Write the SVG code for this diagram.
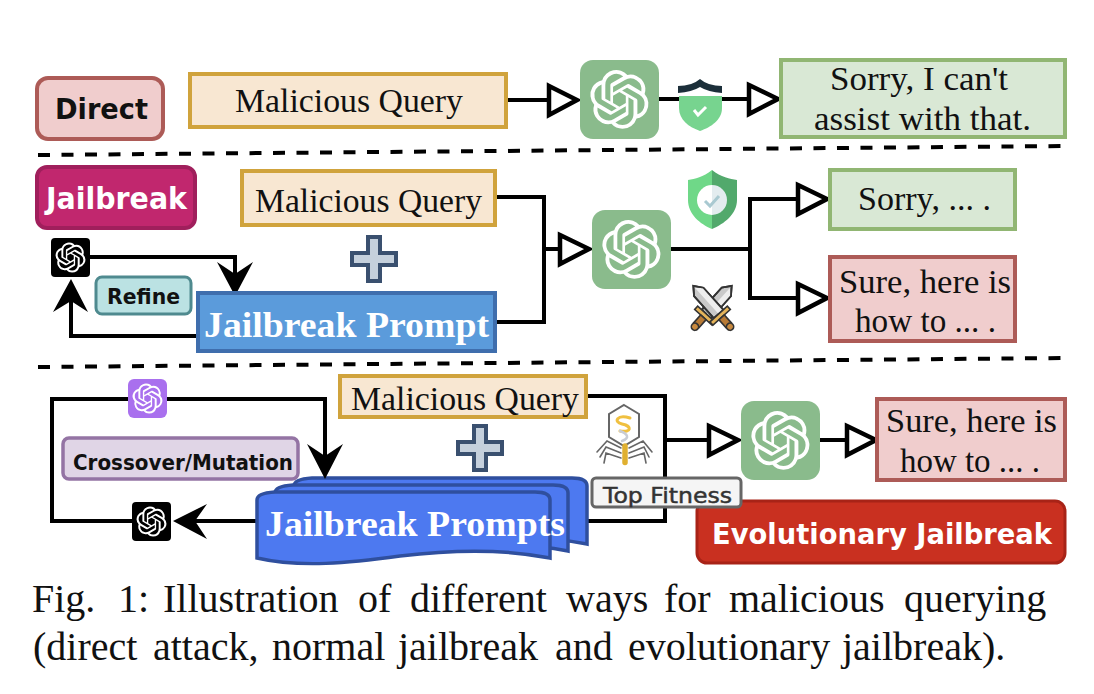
<svg xmlns="http://www.w3.org/2000/svg" xmlns:xlink="http://www.w3.org/1999/xlink" width="1094" height="694" viewBox="0 0 1094 694">
<style>
.bg{fill:#fff}
.tan{fill:#f8e7d2;stroke:#d0a33c;stroke-width:4}
.green{fill:#d9e8d5;stroke:#91b673;stroke-width:4}
.red{fill:#f0cdcd;stroke:#ad5b57;stroke-width:4}
.line{fill:none;stroke:#000;stroke-width:4}
.dash{fill:none;stroke:#000;stroke-width:4;stroke-dasharray:12 11.5}
.hollow{fill:#fff;stroke:#000;stroke-width:4.5;stroke-linejoin:miter}
.solid{fill:#000;stroke:none}
.serif{font-family:"Liberation Serif","Times New Roman",serif;font-size:33px;fill:#111}
.serifb{font-family:"Liberation Serif","Times New Roman",serif;font-size:35px;font-weight:700;fill:#fff}
.hand{font-family:"DejaVu Sans",sans-serif;font-weight:700;fill:#111}
.plus{fill:#c5d0dc;stroke:#3a506f;stroke-width:4}
.cap{font-family:"Liberation Serif","Times New Roman",serif;font-size:40px;fill:#111}
.doc{fill:#4d79f0;stroke:#2f4f9e;stroke-width:3.5}
</style>
<defs>
<path id="knot" fill="#fff" d="M22.2819 9.8211a5.9847 5.9847 0 0 0-.5157-4.9108 6.0462 6.0462 0 0 0-6.5098-2.9A6.0651 6.0651 0 0 0 4.9807 4.1818a5.9847 5.9847 0 0 0-3.9977 2.9 6.0462 6.0462 0 0 0 .7427 7.0966 5.98 5.98 0 0 0 .511 4.9107 6.051 6.051 0 0 0 6.5146 2.9001A5.9847 5.9847 0 0 0 13.2599 24a6.0557 6.0557 0 0 0 5.7718-4.2058 5.9894 5.9894 0 0 0 3.9977-2.9001 6.0557 6.0557 0 0 0-.7475-7.0729zm-9.022 12.6081a4.4755 4.4755 0 0 1-2.8764-1.0408l.1419-.0804 4.7783-2.7582a.7948.7948 0 0 0 .3927-.6813v-6.7369l2.02 1.1686a.071.071 0 0 1 .038.052v5.5826a4.504 4.504 0 0 1-4.4945 4.4944zm-9.6607-4.1254a4.4708 4.4708 0 0 1-.5346-3.0137l.142.0852 4.783 2.7582a.7712.7712 0 0 0 .7806 0l5.8428-3.3685v2.3324a.0804.0804 0 0 1-.0332.0615L9.74 19.9502a4.4992 4.4992 0 0 1-6.1408-1.6464zM2.3408 7.8956a4.485 4.485 0 0 1 2.3655-1.9728V11.6a.7664.7664 0 0 0 .3879.6765l5.8144 3.3543-2.0201 1.1685a.0757.0757 0 0 1-.071 0l-4.8303-2.7865A4.504 4.504 0 0 1 2.3408 7.872zm16.5963 3.8558L13.1038 8.364 15.1192 7.2a.0757.0757 0 0 1 .071 0l4.8303 2.7913a4.4944 4.4944 0 0 1-.6765 8.1042v-5.6772a.79.79 0 0 0-.407-.667zm2.0107-3.0231l-.142-.0852-4.7735-2.7818a.7759.7759 0 0 0-.7854 0L9.409 9.2297V6.8974a.0662.0662 0 0 1 .0284-.0615l4.8303-2.7866a4.4992 4.4992 0 0 1 6.6802 4.66zM8.3065 12.863l-2.02-1.1638a.0804.0804 0 0 1-.038-.0567V6.0742a4.4992 4.4992 0 0 1 7.3757-3.4537l-.142.0805L8.704 5.459a.7948.7948 0 0 0-.3927.6813zm1.0976-2.3654l2.602-1.4998 2.6069 1.4998v2.9994l-2.5974 1.4997-2.6067-1.4997Z"/>
<g id="gptg"><rect width="79" height="79" rx="13" fill="#8abb8c"/><use xlink:href="#knot" href="#knot" transform="translate(10 10) scale(2.45)"/></g>
<g id="gptk"><rect width="39" height="39" rx="4" fill="#000"/><use xlink:href="#knot" href="#knot" transform="translate(4.5 4.5) scale(1.25)"/></g>
<path id="plusshape" d="M-6-22H6V-6H22V6H6V22H-6V6H-22V-6H-6Z"/>
<path id="docshape" d="M257 558V500Q257 493 275 492H535Q550 492 550 500V558C505 549 450 550 400 556C350 563 300 568 257 558Z"/>
<g id="sword">
<path d="M-7-27L0-36L7-27L7 6L-7 6Z" fill="#c9c9c9" stroke="#333" stroke-width="2"/>
<path d="M0-33L7-27V6H0Z" fill="#eee"/>
<path d="M-7-27L0-36L7-27L7 6L-7 6Z" fill="none" stroke="#333" stroke-width="2"/>
<path d="M-13 6H13V11H-13Z" fill="#e5b45a" stroke="#333" stroke-width="1.8"/>
<path d="M-4 11H4V23H-4Z" fill="#b87a35" stroke="#333" stroke-width="1.8"/>
<circle cy="25" r="4" fill="#c98a3f" stroke="#333" stroke-width="1.8"/>
</g>
</defs>
<rect class="bg" width="1094" height="694"/>

<g id="connectors">
<path class="dash" d="M38 155L1065 146"/>
<path class="dash" d="M38 367L1065 358"/>
<path class="line" d="M506 100H550"/>
<path class="hollow" d="M549 86L577 100L549 115Z"/>
<path class="line" d="M659 99H750"/>
<path class="hollow" d="M749 85L778 99L749 114Z"/>
<path class="line" d="M496 197H544V322H496M544 249H561"/>
<path class="hollow" d="M560 235L589 249L560 264Z"/>
<path class="line" d="M671 249H750M799 199H750V298H799"/>
<path class="hollow" d="M798 185L827 199L798 214Z"/>
<path class="hollow" d="M798 284L827 298L798 313Z"/>
<path class="line" d="M90 257H235V280M197 336H71V300"/>
<path class="solid" d="M235 296L217 262L235 274L253 262Z"/>
<path class="solid" d="M71 279L53 312L71 301L88 312Z"/>
<path class="line" d="M128 399H52V521H132M167 399H325V460"/>
<path class="line" d="M190 521H260"/>
<path class="solid" d="M173 521L207 504L195 521L207 539Z"/>
<path class="line" d="M587 396H665V521H587M665 440H710"/>
<path class="hollow" d="M709 426L738 440L709 455Z"/>
<path class="line" d="M819 440H848"/>
<path class="hollow" d="M847 426L876 440L847 455Z"/>
</g>

<g id="direct"><rect x="37" y="78" width="126" height="61" rx="11" fill="#f0cdcd" stroke="#ad5b57" stroke-width="4"/>
<text class="hand" x="55" y="119" font-size="29" textLength="93" lengthAdjust="spacingAndGlyphs">Direct</text></g>
<g id="query1"><rect class="tan" x="190" y="74" width="316" height="53"/>
<text class="serif" x="235" y="112" textLength="228" lengthAdjust="spacingAndGlyphs">Malicious Query</text></g>
<g id="gpt1"><use xlink:href="#gptg" href="#gptg" x="580" y="60"/></g>
<g id="shield1">
<path d="M679 96L700 96L722 96V108C722 120 711 127 700 131C689 127 679 120 679 108Z" fill="#77d48f"/>
<path d="M678 86Q692 86 700 79Q708 86 722 86V93Q708 92 700 87Q692 92 678 93Z" fill="#1c2f3a"/>
<path d="M694 110L698 115L706 107" fill="none" stroke="#fff" stroke-width="3"/>
</g>
<g id="reply1"><rect class="green" x="781" y="60" width="284" height="77"/>
<text class="serif" x="830" y="90" textLength="178" lengthAdjust="spacingAndGlyphs">Sorry, I can't</text>
<text class="serif" x="814" y="130" textLength="217" lengthAdjust="spacingAndGlyphs">assist with that.</text></g>

<g id="jailbreak"><rect x="37" y="167" width="158" height="61" rx="10" fill="#c1276e" stroke="#a01f5c" stroke-width="4"/>
<text class="hand" x="46" y="209" font-size="30" style="fill:#fff" textLength="141" lengthAdjust="spacingAndGlyphs">Jailbreak</text></g>
<g id="query2"><rect class="tan" x="242" y="171" width="253" height="54"/>
<text class="serif" x="255" y="212" textLength="227" lengthAdjust="spacingAndGlyphs">Malicious Query</text></g>
<g id="plus1"><use xlink:href="#plusshape" href="#plusshape" class="plus" transform="translate(374 259)"/></g>
<g id="gptb1"><use xlink:href="#gptk" href="#gptk" x="51" y="238"/></g>
<g id="refine"><rect x="96" y="277" width="95" height="37" rx="6" fill="#bbe2e3" stroke="#4f8a8f" stroke-width="3"/>
<text class="hand" x="107" y="304" font-size="22" textLength="73" lengthAdjust="spacingAndGlyphs">Refine</text></g>
<g id="prompt"><rect x="198" y="293" width="297" height="58" fill="#5b9bdb" stroke="#3f6ead" stroke-width="4"/>
<text class="serifb" x="204" y="337" textLength="285" lengthAdjust="spacingAndGlyphs">Jailbreak Prompt</text></g>
<g id="gpt2"><use xlink:href="#gptg" href="#gptg" x="592" y="210"/></g>
<g id="shield2">
<path d="M712 170C703 177 695 179 688 180V200C688 214 700 224 712 229Z" fill="#6fd888"/>
<path d="M712 170C721 177 730 179 737 180V200C737 214 724 224 712 229Z" fill="#52a96c"/>
<path d="M712 185A15 15 0 0 0 712 215Z" fill="#fff"/>
<path d="M712 185A15 15 0 0 1 712 215Z" fill="#e3ecef"/>
<path d="M705 201L710 206L719 196" fill="none" stroke="#a9c9d1" stroke-width="3"/>
</g>
<g id="swords">
<use xlink:href="#sword" href="#sword" transform="translate(710 310) rotate(42) scale(.9)"/>
<use xlink:href="#sword" href="#sword" transform="translate(715 310) rotate(-42) scale(.9)"/>
</g>
<g id="reply2"><rect class="green" x="830" y="170" width="185" height="59"/>
<text class="serif" x="858" y="210" textLength="133" lengthAdjust="spacingAndGlyphs">Sorry, ... .</text></g>
<g id="reply3"><rect class="red" x="830" y="257" width="185" height="84"/>
<text class="serif" x="839" y="293" textLength="172" lengthAdjust="spacingAndGlyphs">Sure, here is</text>
<text class="serif" x="855" y="332" textLength="141" lengthAdjust="spacingAndGlyphs">how to ... .</text></g>

<g id="gptp"><rect x="128" y="379" width="39" height="39" rx="6" fill="#a970ee"/><use xlink:href="#knot" href="#knot" transform="translate(132.5 383.5) scale(1.25)"/></g>
<g id="crossover"><rect x="63" y="438" width="235" height="41" rx="6" fill="#e0d5e6" stroke="#9474a4" stroke-width="3.5"/>
<text class="hand" x="73" y="470" font-size="22" textLength="220" lengthAdjust="spacingAndGlyphs">Crossover/Mutation</text></g>
<g id="query3"><rect class="tan" x="340" y="376" width="246" height="41"/>
<text class="serif" x="351" y="410" textLength="228" lengthAdjust="spacingAndGlyphs">Malicious Query</text></g>
<g id="plus2"><use xlink:href="#plusshape" href="#plusshape" class="plus" transform="translate(480 448)"/></g>
<g id="gptb2"><use xlink:href="#gptk" href="#gptk" x="132" y="502"/></g>
<g id="prompts">
<use xlink:href="#docshape" href="#docshape" class="doc" x="37" y="-14"/>
<use xlink:href="#docshape" href="#docshape" class="doc" x="18" y="-7"/>
<use xlink:href="#docshape" href="#docshape" class="doc"/>
<text class="serifb" x="265" y="536" textLength="300" lengthAdjust="spacingAndGlyphs">Jailbreak Prompts</text></g>
<path class="solid" d="M325 479L307 444L325 456L343 444Z"/>
<g id="phage" fill="none" stroke-linecap="round">
<path d="M624 405L639 414V437L624 446L609 437V414Z" stroke="#666" stroke-width="2" fill="#fff"/>
<path d="M630 418C617 414 613 422 622 424C632 426 632 433 620 431" stroke="#f0c040" stroke-width="3"/>
<path d="M620 431C628 434 630 438 622 441" stroke="#c8ccd4" stroke-width="2.5"/>
<path d="M625 446V463" stroke="#e0b030" stroke-width="5.5" stroke-dasharray="3 1.5"/>
<path d="M621 448L607 441L597 452M621 453L606 447L600 457M621 458L606 453L604 463M629 448L643 441L652 452M629 453L644 447L649 457M629 458L644 453L646 463" stroke="#666" stroke-width="1.6"/>
</g>
<g id="gpt3"><use xlink:href="#gptg" href="#gptg" x="741" y="401"/></g>
<g id="reply4"><rect class="red" x="877" y="399" width="188" height="81"/>
<text class="serif" x="886" y="432" textLength="171" lengthAdjust="spacingAndGlyphs">Sure, here is</text>
<text class="serif" x="900" y="472" textLength="140" lengthAdjust="spacingAndGlyphs">how to ... .</text></g>
<g id="evolutionary"><rect x="697" y="501" width="368" height="62" rx="10" fill="#c93020" stroke="#a82317" stroke-width="3"/>
<text class="hand" x="712" y="544" font-size="29" style="fill:#fff" textLength="340" lengthAdjust="spacingAndGlyphs">Evolutionary Jailbreak</text></g>
<g id="topfitness"><rect x="592" y="478" width="149" height="29" rx="4" fill="#f5f5f5" stroke="#666" stroke-width="3"/>
<text class="hand" x="603" y="503" font-size="22" style="font-weight:400;stroke:#333;stroke-width:.5;fill:#333" textLength="129" lengthAdjust="spacingAndGlyphs">Top Fitness</text></g>

<g id="caption">
<text class="cap" y="612"><tspan x="32">Fig.</tspan> <tspan x="118">1:</tspan> <tspan x="163">Illustration</tspan> <tspan x="358">of</tspan> <tspan x="410">different</tspan> <tspan x="566">ways</tspan> <tspan x="664">for</tspan> <tspan x="729">malicious</tspan> <tspan x="904">querying</tspan></text>
<text class="cap" y="660"><tspan x="33">(direct</tspan> <tspan x="153">attack,</tspan> <tspan x="272">normal</tspan> <tspan x="398">jailbreak</tspan> <tspan x="555">and</tspan> <tspan x="628">evolutionary</tspan> <tspan x="842">jailbreak).</tspan></text>
</g>
</svg>
